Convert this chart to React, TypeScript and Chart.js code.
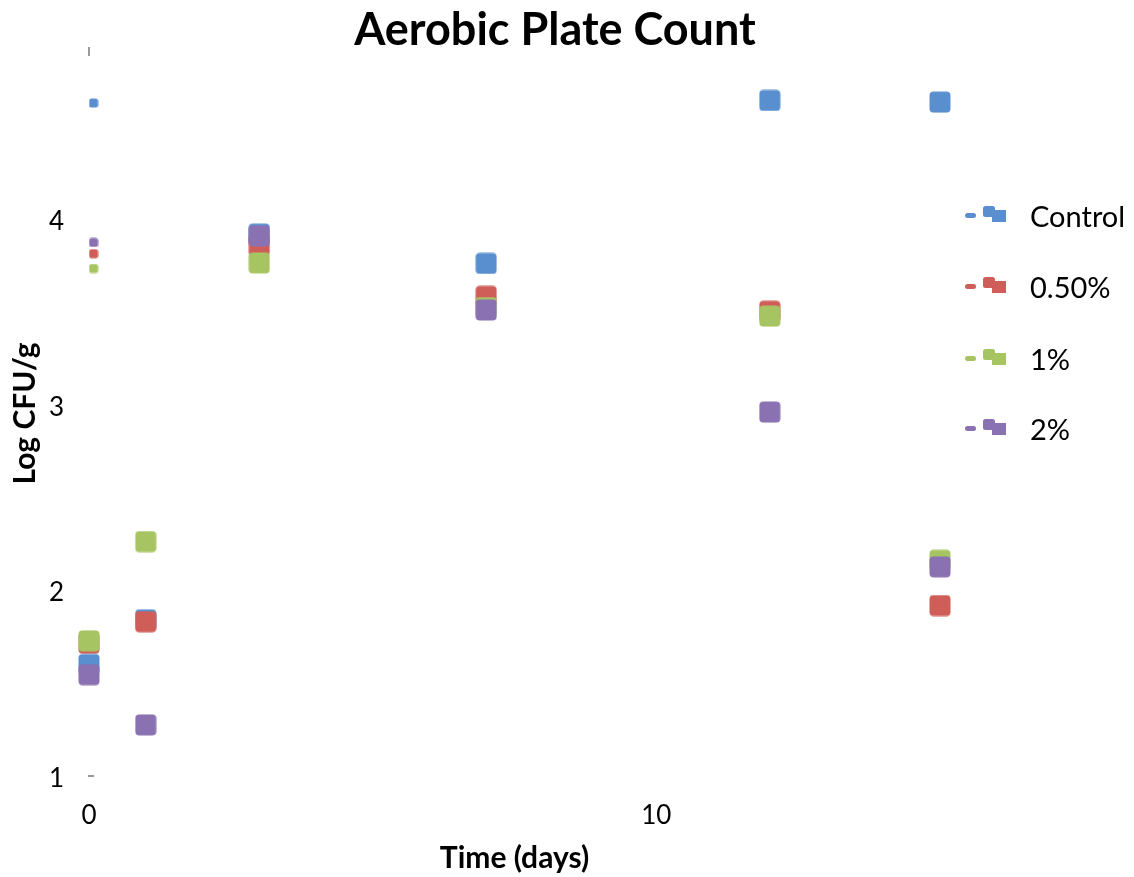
import { useEffect, useRef } from "react";
import { Chart, registerables } from "chart.js";

Chart.register(...registerables);

const chartTitle = "Aerobic Plate Count";
const xTitle = "Time (days)";
const yTitle = "Log CFU/g";
const days = [0, 1, 3, 7, 12, 15];
const seriesNames = ["Control", "0.50%", "1%", "2%"];
const controlValues = [1.6, 1.84, 3.915, 3.757, 4.634, 4.625];
const pct050Values = [1.715, 1.83, 3.855, 3.58, 3.5, 1.917];
const pct1Values = [1.727, 2.261, 3.76, 3.52, 3.474, 2.16];
const pct2Values = [1.545, 1.275, 3.905, 3.507, 2.958, 2.125];
const startDay = 0.08;
const startValues = [4.62, 3.81, 3.73, 3.87];
const xTicks = [0, 10];
const yTicks = [1, 2, 3, 4];
const colors = ["#5A8FCF", "#D05E58", "#A6C562", "#8A71B1"];

const FONT = "Lato, 'Open Sans', sans-serif";

function roundRectPath(ctx: CanvasRenderingContext2D, x: number, y: number, w: number, h: number, r: number) {
  ctx.beginPath();
  ctx.moveTo(x + r, y);
  ctx.lineTo(x + w - r, y);
  ctx.arcTo(x + w, y, x + w, y + r, r);
  ctx.lineTo(x + w, y + h - r);
  ctx.arcTo(x + w, y + h, x + w - r, y + h, r);
  ctx.lineTo(x + r, y + h);
  ctx.arcTo(x, y + h, x, y + h - r, r);
  ctx.lineTo(x, y + r);
  ctx.arcTo(x, y, x + r, y, r);
  ctx.closePath();
}

function makeMarker(color: string, size: number, r: number) {
  const c = document.createElement("canvas");
  c.width = size;
  c.height = size;
  const ctx = c.getContext("2d")!;
  ctx.fillStyle = color;
  roundRectPath(ctx, 0.5, 0.5, size - 1, size - 1, r);
  ctx.fill();
  return c;
}

const overlayPlugin = {
  id: "overlay",
  afterDraw(chart: any) {
    const ctx: CanvasRenderingContext2D = chart.ctx;
    ctx.save();
    ctx.fillStyle = "#000";
    ctx.font = `bold 45px ${FONT}`;
    ctx.textAlign = "center";
    ctx.textBaseline = "middle";
    ctx.fillText(chartTitle, 555, 30);

    const legendY = [218, 289, 361, 431];
    ctx.font = `29px ${FONT}`;
    ctx.textAlign = "left";
    seriesNames.forEach((name, i) => {
      const cy = legendY[i];
      const col = colors[i];
      ctx.fillStyle = col;
      roundRectPath(ctx, 965, cy - 5, 11, 5, 2.5);
      ctx.fill();
      roundRectPath(ctx, 983, cy - 12, 12, 11, 2.5);
      ctx.fill();
      ctx.fillRect(992, cy - 8, 14, 12);
      ctx.fillStyle = "#000";
      ctx.fillText(name, 1030, cy);
    });

    // faint axis end marks
    ctx.fillStyle = "#9a9a9a";
    ctx.fillRect(88, 47, 2, 9);
    ctx.fillRect(88, 775, 6, 2);
    ctx.restore();
  },
};

export default function App() {
  const ref = useRef<HTMLCanvasElement>(null);
  useEffect(() => {
    document.body.style.margin = "0";
    const big = colors.map((c) => makeMarker(c, 22, 4));
    const small = colors.map((c) => makeMarker(c, 10, 2.5));
    const all = [controlValues, pct050Values, pct1Values, pct2Values];
    const datasets = all.map((vals, k) => ({
      label: seriesNames[k],
      data: days
        .map((d, i) => ({ x: d, y: vals[i] }))
        .concat([{ x: startDay, y: startValues[k] }]),
      pointStyle: days.map(() => big[k] as any).concat([small[k] as any]),
      backgroundColor: colors[k],
      borderColor: colors[k],
      pointRadius: 11,
      showLine: false,
      clip: false as any,
      order: 3 - k,
    }));
    Chart.defaults.font.family = FONT;
    const chart = new Chart(ref.current!, {
      type: "scatter",
      data: { datasets },
      plugins: [overlayPlugin],
      options: {
        animation: false,
        responsive: false,
        layout: { padding: { top: 51, right: 194, left: 0, bottom: 0 } },
        plugins: { legend: { display: false }, title: { display: false }, tooltip: { enabled: false } },
        scales: {
          x: {
            type: "linear",
            min: 0,
            max: 15,
            grid: { display: false, drawTicks: false },
            border: { display: false },
            afterBuildTicks: (s: any) => {
              s.ticks = xTicks.map((v) => ({ value: v }));
            },
            afterFit: (s: any) => {
              s.height = 101;
            },
            ticks: { padding: 24, color: "#000", font: { size: 26 }, maxRotation: 0 },
            title: { display: true, text: xTitle, color: "#000", font: { size: 30, weight: "bold" }, padding: { top: 0, bottom: 1 } },
          },
          y: {
            type: "linear",
            min: 1,
            max: 4.9,
            grid: { display: false, drawTicks: false },
            border: { display: false },
            afterBuildTicks: (s: any) => {
              s.ticks = yTicks.map((v) => ({ value: v }));
            },
            afterFit: (s: any) => {
              s.width = 89;
            },
            ticks: { padding: 25, color: "#000", font: { size: 26 }, labelOffset: 3 },
            title: { display: true, text: yTitle, color: "#000", font: { size: 30, weight: "bold" }, padding: { top: 7, bottom: 0 } },
          },
        },
      },
    });
    return () => chart.destroy();
  }, []);
  return <canvas ref={ref} width={1134} height={877} style={{ display: "block" }} />;
}
